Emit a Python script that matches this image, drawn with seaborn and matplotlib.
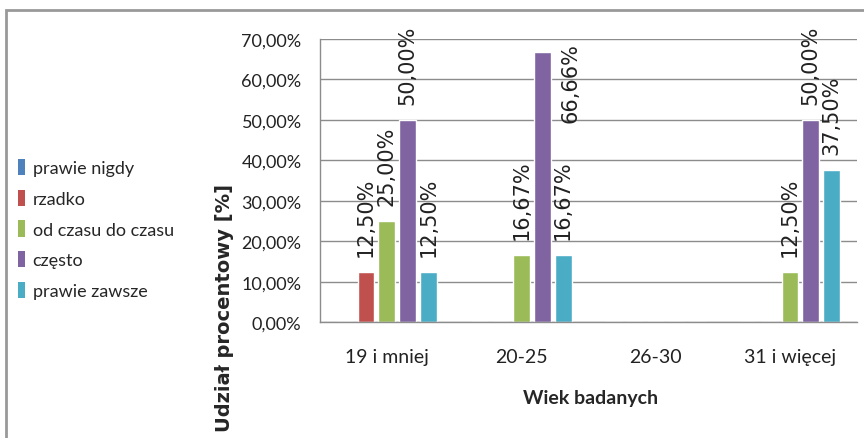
import pandas as pd
import seaborn as sns
import matplotlib.pyplot as plt
from matplotlib.patches import Rectangle, Patch
from matplotlib.ticker import FuncFormatter

# dane z wykresu
age_groups = ["19 i mniej", "20-25", "26-30", "31 i więcej"]
answers = ["prawie nigdy", "rzadko", "od czasu do czasu", "często", "prawie zawsze"]
prawie_nigdy = [0, 0, 0, 0]
rzadko = [12.50, 0, 0, 0]
od_czasu = [25.00, 16.67, 0, 12.50]
czesto = [50.00, 66.66, 0, 50.00]
prawie_zawsze = [12.50, 16.67, 0, 37.50]
colors = ["#4F81BD", "#C0504D", "#9BBB59", "#8064A2", "#4BACC6"]

series = [prawie_nigdy, rzadko, od_czasu, czesto, prawie_zawsze]
rows = []
for ans, vals in zip(answers, series):
    for grp, v in zip(age_groups, vals):
        rows.append({"wiek": grp, "odp": ans, "udzial": v})
df = pd.DataFrame(rows)

sns.set_style("white")
calib = ["Lato", "DejaVu Sans"]

fig = plt.figure(figsize=(8.64, 4.39), dpi=100)
ax = fig.add_axes([0.370, 0.264, 0.622, 0.645])

sns.barplot(data=df, x="wiek", y="udzial", hue="odp", order=age_groups,
            hue_order=answers, palette=colors, width=0.78, gap=0.2,
            saturation=1, ax=ax, legend=False)


def fmt(v):
    return f"{v:.2f}".replace(".", ",") + "%"


# etykiety nad słupkami (etykieta, która nie mieści się nad słupkiem, idzie obok)
ymax = 70
for cont, vals in zip(ax.containers, series):
    for bar, v in zip(cont, vals):
        if v <= 0:
            continue
        xc = bar.get_x() + bar.get_width() / 2
        if v > 60:
            ax.annotate(fmt(v), (xc, ymax), xytext=(28, -3), textcoords="offset pixels",
                        rotation=90, ha="center", va="top", fontsize=15,
                        family="DejaVu Sans", color="#222222")
        else:
            ax.annotate(fmt(v), (xc, v), xytext=(0, 16), textcoords="offset pixels",
                        rotation=90, ha="center", va="bottom", fontsize=15,
                        family="DejaVu Sans", color="#222222", annotation_clip=False)

ax.set_ylim(0, ymax)
ax.set_xlim(-0.5, 3.5)
ax.set_yticks(range(0, 71, 10))
ax.yaxis.set_major_formatter(FuncFormatter(lambda v, p: fmt(v)))
ax.grid(axis="y", color="#8c8c8c", lw=1)
ax.set_axisbelow(True)
for s in ["top", "right"]:
    ax.spines[s].set_visible(False)
for s in ["left", "bottom"]:
    ax.spines[s].set_color("#8c8c8c")
    ax.spines[s].set_linewidth(1)
ax.tick_params(axis="y", length=0, pad=13)
ax.tick_params(axis="x", length=0, pad=19)
for t in ax.get_yticklabels():
    t.set_family(calib)
    t.set_fontsize(13)
    t.set_color("#222222")
for t in ax.get_xticklabels():
    t.set_family(calib)
    t.set_fontsize(14)
    t.set_color("#222222")
ax.set_xlabel("")
ax.set_ylabel("")

fig.text(0.683, 1 - 399 / 439, "Wiek badanych", ha="center", va="center",
         fontsize=14, fontweight="bold", family=calib)
fig.text(0.260, 1 - 308 / 439, "Udział procentowy [%]", ha="center", va="center",
         rotation=90, fontsize=14, fontweight="bold", family="DejaVu Sans")

handles = [Patch(facecolor=c, edgecolor="none") for c in colors]
fig.legend(handles, answers, loc="center left", bbox_to_anchor=(0.021, 1 - 230 / 439),
           frameon=False, prop={"family": calib, "size": 13}, handlelength=0.4,
           handleheight=1.0, handletextpad=0.4, labelspacing=0.75,
           borderpad=0, borderaxespad=0)

# ramka wokół wykresu
fig.patches.append(Rectangle((6 / 864, -0.1), 1.2, 1 - 11 / 439 + 0.1,
                             transform=fig.transFigure, fill=False,
                             edgecolor="#999999", lw=2))

fig.savefig("out.png", dpi=100)
